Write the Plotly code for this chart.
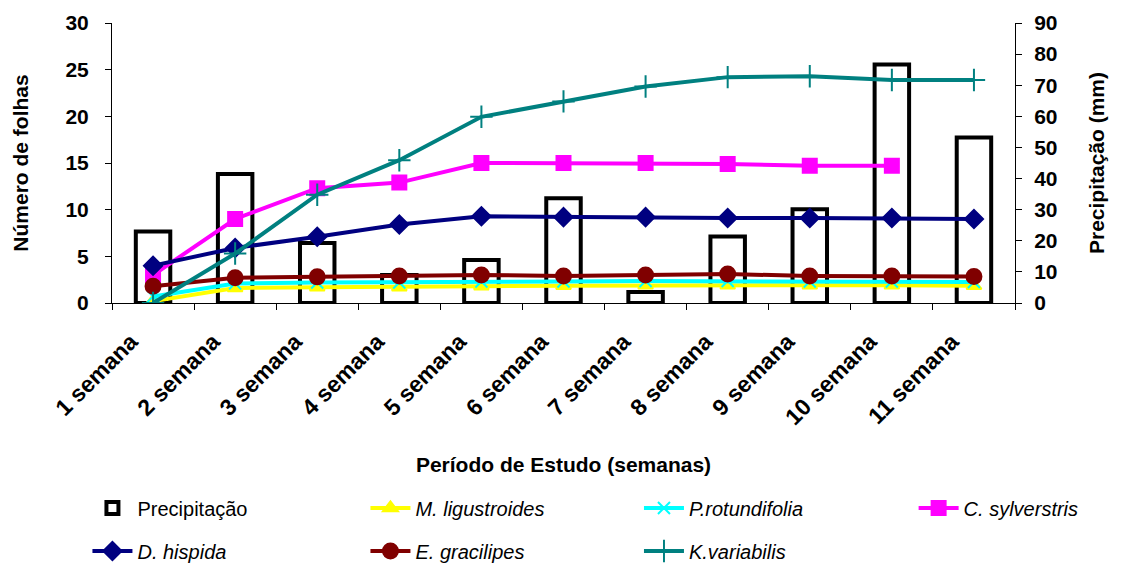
import plotly.graph_objects as go

categories = ["1 semana", "2 semana", "3 semana", "4 semana", "5 semana", "6 semana",
              "7 semana", "8 semana", "9 semana", "10 semana", "11 semana"]
precipitacao = [23, 41.5, 19.3, 9, 13.8, 33.7, 3.5, 21.4, 30.1, 76.7, 53.2]
m_ligustroides = [0.2, 1.6, 1.7, 1.7, 1.8, 1.85, 1.9, 1.9, 1.9, 1.9, 1.85]
p_rotundifolia = [0.7, 2.1, 2.2, 2.2, 2.3, 2.3, 2.35, 2.35, 2.3, 2.3, 2.25]
c_sylverstris = [3.0, 9.0, 12.3, 12.9, 15.0, 15.0, 15.0, 14.9, 14.7, 14.7, None]
d_hispida = [4.0, 5.9, 7.1, 8.4, 9.3, 9.2, 9.2, 9.1, 9.1, 9.1, 9.0]
e_gracilipes = [1.8, 2.7, 2.8, 2.9, 3.0, 2.9, 3.0, 3.1, 2.9, 2.9, 2.85]
k_variabilis = [0.0, 5.3, 11.6, 15.3, 19.95, 21.6, 23.2, 24.2, 24.3, 23.9, 23.9]

FONT = "Liberation Sans, Arial, sans-serif"

# legend slots: (legend id, x, y) in container fractions
legend_slots = {
    "legend": (0.078, 0.1025),
    "legend2": (0.326, 0.1025),
    "legend3": (0.570, 0.1025),
    "legend4": (0.815, 0.1025),
    "legend5": (0.078, 0.0265),
    "legend6": (0.326, 0.0265),
    "legend7": (0.570, 0.0265),
}

fig = go.Figure()
fig.add_trace(go.Bar(
    x=categories, y=precipitacao, name="Precipitação", yaxis="y", legend="legend",
    marker=dict(color="white", line=dict(color="black", width=4)), width=0.42,
))

series = [
    ("<i>M. ligustroides</i>", m_ligustroides, "#FFFF00", "triangle-up", 13, "legend2"),
    ("<i>P.rotundifolia</i>", p_rotundifolia, "#00FFFF", "x-thin", 12, "legend3"),
    ("<i>C. sylverstris</i>", c_sylverstris, "#FF00FF", "square", 14, "legend4"),
    ("<i>D. hispida</i>", d_hispida, "#000080", "diamond", 14, "legend5"),
    ("<i>E. gracilipes</i>", e_gracilipes, "#800000", "circle", 15, "legend6"),
    ("<i>K.variabilis</i>", k_variabilis, "#008080", "cross-thin", 16, "legend7"),
]
for name, vals, color, sym, size, leg in series:
    fig.add_trace(go.Scatter(
        x=categories, y=vals, name=name, yaxis="y2", mode="lines+markers", legend=leg,
        line=dict(color=color, width=4),
        marker=dict(symbol=sym, size=size, color=color, line=dict(color=color, width=2)),
    ))

legends = {}
for lid, (lx, ly) in legend_slots.items():
    legends[lid] = dict(orientation="h", x=lx, y=ly, xanchor="left", yanchor="middle",
                        xref="container", yref="container",
                        font=dict(size=20, family=FONT), itemwidth=40,
                        bgcolor="rgba(0,0,0,0)")

fig.update_layout(
    width=1121, height=566,
    margin=dict(l=112, r=106, t=23, b=263),
    paper_bgcolor="white", plot_bgcolor="white",
    font=dict(family=FONT, color="black"),
    showlegend=True,
    **legends,
    xaxis=dict(
        type="category", range=[-0.5, len(categories) - 0.5],
        showline=True, linecolor="black", linewidth=1,
        ticks="outside", ticklen=6, tickcolor="black", tickson="boundaries",
        tickangle=-45, tickfont=dict(size=23, family=FONT, weight="bold"),
        ticklabelshift=-22, ticklabelstandoff=15,
        title=dict(text="<b>Período de Estudo (semanas)</b>", font=dict(size=21), standoff=28),
        showgrid=False, automargin=False,
    ),
    yaxis=dict(
        side="right", range=[0, 90], dtick=10, showline=True, linecolor="black",
        ticks="outside", ticklen=6, tickcolor="black", showgrid=False, zeroline=False,
        tickfont=dict(size=21, family=FONT, weight="bold"), ticklabelstandoff=8,
        title=dict(text="<b>Precipitação (mm)</b>", font=dict(size=21), standoff=32),
        automargin=False,
    ),
    yaxis2=dict(
        side="left", overlaying="y", range=[0, 30], dtick=5, showline=True, linecolor="black",
        ticks="outside", ticklen=6, tickcolor="black", showgrid=False, zeroline=False,
        tickfont=dict(size=21, family=FONT, weight="bold"), ticklabelstandoff=12,
        title=dict(text="<b>Número de folhas</b>", font=dict(size=21), standoff=31),
        automargin=False,
    ),
)

fig.write_html("out.html", config={"displayModeBar": False},
               post_script="document.body.style.margin='0px';")
